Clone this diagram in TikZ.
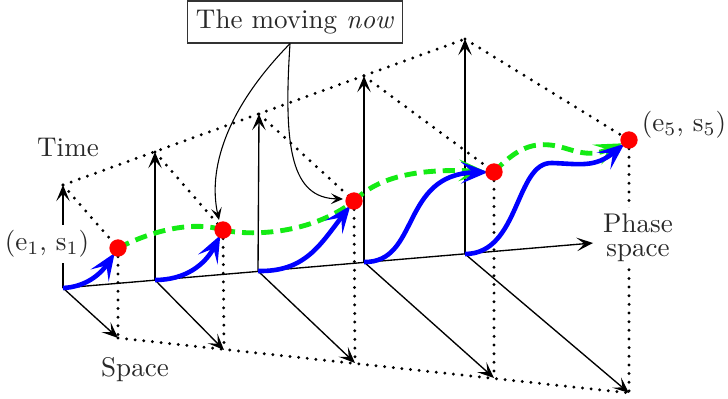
\documentclass[tikz,border=0pt]{standalone}
\usepackage{tikz}
\usetikzlibrary{positioning,calc}
\usetikzlibrary{arrows.meta}
\definecolor{TrajBlue}{RGB}{0,0,255}
\definecolor{NowGreen}{RGB}{20,235,20}
\definecolor{StateRed}{RGB}{255,0,0}
\definecolor{InkGray}{RGB}{40,40,40}
\tikzset{
  axis/.style={draw=black,line width=0.5pt,-{Stealth[length=6pt,width=5pt,inset=2.8pt]}},
  guide/.style={draw=black,line width=1.2pt,line cap=round,dash pattern=on 0pt off 3.2pt},
  traj/.style={draw=TrajBlue,line width=1.7pt,shorten >=2.2pt,-{Stealth[length=10pt,width=8pt,inset=4.5pt]}},
  nowpath/.style={draw=NowGreen,line width=1.8pt,dash pattern=on 4.5pt off 2.6pt},
  state/.style={circle,fill=StateRed,inner sep=0pt,minimum size=6.4pt},
  lbl/.style={text=InkGray,inner sep=2pt},
}
\tikzset{callout/.style={draw=black,line width=0.4pt,-{Stealth[length=4.5pt,width=4pt,inset=2pt]}}, nowbox/.style={draw=black!80,line width=0.6pt,fill=white,inner sep=3.2pt,text=InkGray}, nowtip/.style={shorten >=3pt,-{Stealth[length=10pt,width=8pt,inset=4.5pt]}}}

\begin{document}
\begin{tikzpicture}[x=0.013cm,y=-0.013cm]
\useasboundingbox (0,0) rectangle (728,399);
\coordinate (o1) at (63,288);
\coordinate (o2) at (155,280);
\coordinate (o3) at (258,271);
\coordinate (o4) at (364,262);
\coordinate (o5) at (465,254);
\coordinate (t1) at (63,185);
\coordinate (t2) at (155,152);
\coordinate (t3) at (259,114);
\coordinate (t4) at (364,76);
\coordinate (t5) at (465,39);
\coordinate (s1) at (118,338);
\coordinate (s2) at (224,350);
\coordinate (s3) at (355,363);
\coordinate (s4) at (494,378);
\coordinate (s5) at (629,393);
\coordinate (p1) at (118,248);
\coordinate (p2) at (223,230);
\coordinate (p3) at (354,201);
\coordinate (p4) at (494,172);
\coordinate (p5) at (629,140);
\coordinate (ph) at (593,243);
\draw[guide] (t1)--(t5);
\draw[guide] (s1)--(s5);
\draw[guide] (t1)--(p1);
\draw[guide] (t2)--(p2);
\draw[guide] (t3)--(p3);
\draw[guide] (t4)--(p4);
\draw[guide] (t5)--(p5);
\draw[guide] (p1)--(s1);
\draw[guide] (p2)--(s2);
\draw[guide] (p3)--(s3);
\draw[guide] (p4)--(s4);
\draw[guide] (p5)--(s5);
\draw[axis] (o1)--(ph);
\draw[axis] (o1)--(t1);
\draw[axis] (o2)--(t2);
\draw[axis] (o3)--(t3);
\draw[axis] (o4)--(t4);
\draw[axis] (o5)--(t5);
\draw[axis] (o1)--(s1);
\draw[axis] (o2)--(s2);
\draw[axis] (o3)--(s3);
\draw[axis] (o4)--(s4);
\draw[axis] (o5)--(s5);
\node[lbl] (time) at (68,148) {Time};
\node[lbl,fill=white] (st1) at (47,244) {(e$_1$, s$_1$)};
\node[lbl] (space) at (135,370) {Space};
\node[lbl,fill=white,align=center] (phase) at (638,238) {Phase\\[-3pt]space};
\node[lbl] (st5) at (684,125) {(e$_5$, s$_5$)};
\node[nowbox] (now) at (295,22) {The moving \emph{now}};
\draw[callout] ($(now.south)+(-5,0)$) .. controls (225,110) and (208,170) .. (219,220);
\draw[callout] ($(now.south)+(-5,0)$) .. controls (283,150) and (292,198) .. (343,199);
\draw[nowpath] (p1) .. controls (150,232) and (190,220) .. (p2);
\draw[nowpath] (p2) .. controls (250,236) and (310,235) .. (p3);
\draw[nowpath,nowtip] (p3) .. controls (375,180) and (410,168) .. (p4);
\draw[nowpath,nowtip] (p4) .. controls (515,150) and (530,143) .. (550,145) .. controls (570,147) and (585,160) .. (p5);
\draw[traj] (o1) .. controls (85,287) and (100,275) .. (p1);
\draw[traj] (o2) .. controls (185,280) and (205,265) .. (p2);
\draw[traj] (o3) .. controls (305,272) and (320,245) .. (p3);
\draw[traj] (o4) .. controls (420,263) and (400,174) .. (p4);
\draw[traj] (o5) .. controls (520,254) and (515,162) .. (552,163) .. controls (580,164) and (595,168) .. (p5);
\node[state] (d1) at (p1) {};
\node[state] (d2) at (p2) {};
\node[state] (d3) at (p3) {};
\node[state] (d4) at (p4) {};
\node[state] (d5) at (p5) {};
\end{tikzpicture}
\end{document}
